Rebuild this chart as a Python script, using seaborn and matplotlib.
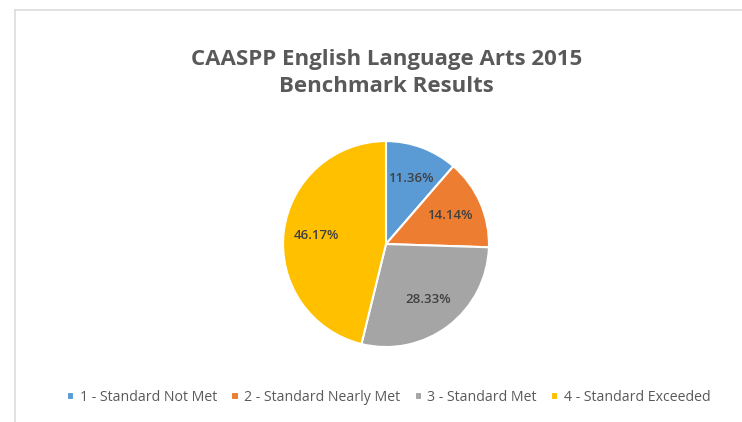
import matplotlib.pyplot as plt
import seaborn as sns
from matplotlib.lines import Line2D

# datos del grafico
categorias = ['1 - Standard Not Met', '2 - Standard Nearly Met',
              '3 - Standard Met', '4 - Standard Exceeded']
porcentajes = [11.36, 14.14, 28.33, 46.17]
colores = ['#5B9BD5', '#ED7D31', '#A5A5A5', '#FFC000']
titulo = "CAASPP English Language Arts 2015\nBenchmark Results"

sns.set_theme(style='white')
plt.rcParams['font.family'] = ['Open Sans', 'DejaVu Sans']

fig = plt.figure(figsize=(7.42, 4.22), dpi=100)
fig.patch.set_facecolor('white')

# borde claro del area del grafico (arriba e izquierda)
fig.add_artist(Line2D([0.02, 1.0], [0.976, 0.976], color='#DCDCDC', lw=1.2))
fig.add_artist(Line2D([0.02, 0.02], [0.0, 0.976], color='#DCDCDC', lw=1.2))

# pie de radio ~103 px centrado en (386, 244)
ax = fig.add_axes([0.3467, 0.1167, 0.347, 0.610])

wedges, textos, autotextos = ax.pie(
    porcentajes, colors=colores, startangle=90, counterclock=False,
    autopct=lambda p: f'{p:.2f}%', pctdistance=0.68,
    wedgeprops=dict(edgecolor='white', linewidth=1.5),
    textprops=dict(color='#404040', fontsize=9.5, fontweight='semibold'))
ax.set_aspect('equal')

fig.text(0.521, 0.885, titulo, ha='center', va='top', fontsize=16,
         fontweight='bold', color='#595959', linespacing=1.4)

ley = fig.legend(wedges, categorias, loc='center', bbox_to_anchor=(0.524, 0.057),
                 ncol=4, frameon=False, fontsize=10.2, handlelength=0.5,
                 handleheight=0.5, handletextpad=0.4, columnspacing=1.0)
for t in ley.get_texts():
    t.set_color('#595959')

plt.savefig('out.png', dpi=100)
